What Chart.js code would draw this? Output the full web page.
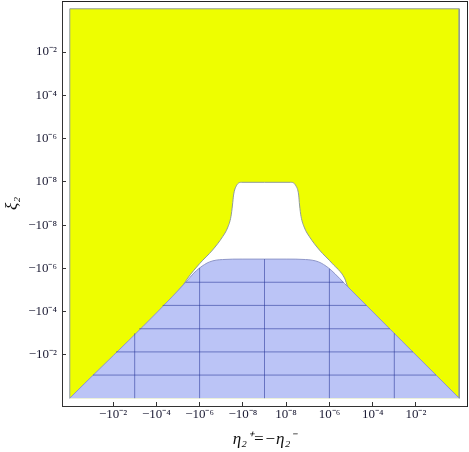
<!DOCTYPE html>
<html lang="en">
<head>
<meta charset="UTF-8">
<title>Region plot</title>
<style>
  html, body { margin: 0; padding: 0; background: #fff; }
  canvas { display: block; }
</style>
<script src="https://cdn.jsdelivr.net/npm/chart.js"></script>
</head>
<body>
<canvas id="regionChart" width="469" height="452"></canvas>
<script>
// axis coordinate t = sign(v) * (log10|v| + 9): 10^-8 -> 1, 10^-2 -> 7, 1 -> 9
const tickValues = [-7, -5, -3, -1, 1, 3, 5, 7];
const tickLabels = ['−10⁻²', '−10⁻⁴', '−10⁻⁶', '−10⁻⁸', '10⁻⁸', '10⁻⁶', '10⁻⁴', '10⁻²'];

// yellow region: whole square
const yellowX = [-9, -9, 9, 9];
const yellowY = [-9, 9, 9, -9];

// lower edge of the yellow region (white gap below it)
const gapX = [-9, -3.75, -3.55, -3.0, -2.4, -1.94, -1.71, -1.55, -1.48, -1.43, -1.3, -1.05, 0, 1.2, 1.45, 1.58, 1.62, 1.69, 1.85, 2.08, 2.54, 3.14, 3.7, 3.85, 9];
const gapY = [-9, -3.75, -3.45, -2.78, -2.15, -1.54, -1.13, -0.6, -0.07, 0.39, 0.82, 0.98, 0.98, 0.98, 0.82, 0.39, -0.07, -0.6, -1.13, -1.54, -2.15, -2.78, -3.45, -3.85, -9];

// upper edge of the blue region
const blueX = [-9, -3.6, -3.3, -3.0, -2.54, -1.94, -1.0, 0, 1.0, 1.9, 2.5, 2.96, 3.26, 3.7, 9];
const blueY = [-9, -3.6, -3.25, -2.98, -2.70, -2.59, -2.57, -2.57, -2.57, -2.59, -2.70, -2.98, -3.25, -3.7, -9];

// mesh lines inside the blue region
const meshX = [-6, -3, 0, 3, 6];
const meshY = [-7.93, -6.86, -5.79, -4.71, -3.64];

const axisMin = -9.36, axisMax = 9.36;

function toPoints(xs, ys) {
    return xs.map((x, i) => ({ x: x, y: ys[i] }));
}

function yOnCurve(xs, ys, x) {
    for (let i = 1; i < xs.length; i++) {
        if (x <= xs[i]) {
            const f = (x - xs[i - 1]) / (xs[i] - xs[i - 1]);
            return ys[i - 1] + f * (ys[i] - ys[i - 1]);
        }
    }
    return ys[ys.length - 1];
}

// where the curve crosses level y, rising side (left) or falling side (right)
function xOnCurve(xs, ys, y, rising) {
    for (let i = 1; i < xs.length; i++) {
        const a = ys[i - 1], b = ys[i];
        if (rising ? (a <= y && y <= b) : (a >= y && y >= b)) {
            return xs[i - 1] + (y - a) / (b - a) * (xs[i] - xs[i - 1]);
        }
    }
    return 0;
}

const meshStyle = { borderColor: 'rgba(35, 50, 150, 0.55)', borderWidth: 1, fill: false, order: 0 };

const meshSets = [];
meshX.forEach(x => {
    meshSets.push(Object.assign({ data: [{ x: x, y: -9 }, { x: x, y: yOnCurve(blueX, blueY, x) }] }, meshStyle));
});
meshY.forEach(y => {
    meshSets.push(Object.assign({ data: [
        { x: xOnCurve(blueX, blueY, y, true), y: y },
        { x: xOnCurve(blueX, blueY, y, false), y: y }
    ] }, meshStyle));
});

const serif = 'Liberation Serif';

function noPad(s) {
    s.paddingTop = 0; s.paddingBottom = 0; s.paddingLeft = 0; s.paddingRight = 0;
}

new Chart(document.getElementById('regionChart').getContext('2d'), {
    type: 'scatter',
    data: {
        datasets: [
            {
                data: toPoints(blueX, blueY),
                backgroundColor: '#bbc4f6',
                borderColor: '#8f97c9',
                borderWidth: 1,
                cubicInterpolationMode: 'monotone',
                fill: { value: -9 },
                order: 1
            },
            {
                data: toPoints(gapX, gapY),
                backgroundColor: '#ffffff',
                borderColor: '#8f9b9b',
                borderWidth: 1,
                cubicInterpolationMode: 'monotone',
                fill: { value: -9 },
                order: 2
            },
            {
                data: toPoints(yellowX, yellowY),
                backgroundColor: '#eefe00',
                borderColor: '#8f9b9b',
                borderWidth: 1,
                tension: 0,
                fill: { value: -9 },
                order: 3
            }
        ].concat(meshSets)
    },
    options: {
        responsive: false,
        animation: false,
        devicePixelRatio: 1,
        showLine: true,
        layout: { padding: 0 },
        elements: { point: { radius: 0, hoverRadius: 0 } },
        plugins: {
            legend: { display: false },
            tooltip: { enabled: false }
        },
        scales: {
            x: {
                type: 'linear',
                position: 'bottom',
                min: axisMin,
                max: axisMax,
                afterFit: s => { s.height = 46; noPad(s); },
                afterBuildTicks: s => { s.ticks = tickValues.map(v => ({ value: v })); },
                ticks: {
                    callback: (v, i) => tickLabels[i],
                    font: { family: serif, size: 13 },
                    color: '#1a1a33',
                    padding: 5,
                    maxRotation: 0,
                    autoSkip: false
                },
                grid: { drawOnChartArea: false, drawTicks: true, tickLength: -4, color: '#333' },
                border: { display: true, color: '#333', width: 1 },
                title: {
                    display: true,
                    text: 'η₂⁺=−η₂⁻',
                    font: { family: serif, size: 17, style: 'italic' },
                    color: '#111',
                    padding: { top: 0, bottom: 2 }
                }
            },
            y: {
                type: 'linear',
                position: 'left',
                min: axisMin,
                max: axisMax,
                afterFit: s => { s.width = 62; noPad(s); },
                afterBuildTicks: s => { s.ticks = tickValues.map(v => ({ value: v })); },
                ticks: {
                    callback: (v, i) => tickLabels[i],
                    font: { family: serif, size: 13 },
                    color: '#1a1a33',
                    padding: 9,
                    autoSkip: false
                },
                grid: { drawOnChartArea: false, drawTicks: true, tickLength: -4, color: '#333' },
                border: { display: true, color: '#333', width: 1 },
                title: {
                    display: true,
                    text: 'ξ₂',
                    font: { family: serif, size: 17, style: 'italic' },
                    color: '#111',
                    padding: { top: 2, bottom: 0 }
                }
            },
            xTop: {
                type: 'linear',
                position: 'top',
                min: axisMin,
                max: axisMax,
                afterFit: s => { s.height = 1; noPad(s); },
                ticks: { display: false },
                grid: { display: false },
                border: { display: true, color: '#222', width: 1 }
            },
            yRight: {
                type: 'linear',
                position: 'right',
                min: axisMin,
                max: axisMax,
                afterFit: s => { s.width = 2; noPad(s); },
                ticks: { display: false },
                grid: { display: false },
                border: { display: true, color: '#222', width: 1 }
            }
        }
    }
});
</script>
</body>
</html>
